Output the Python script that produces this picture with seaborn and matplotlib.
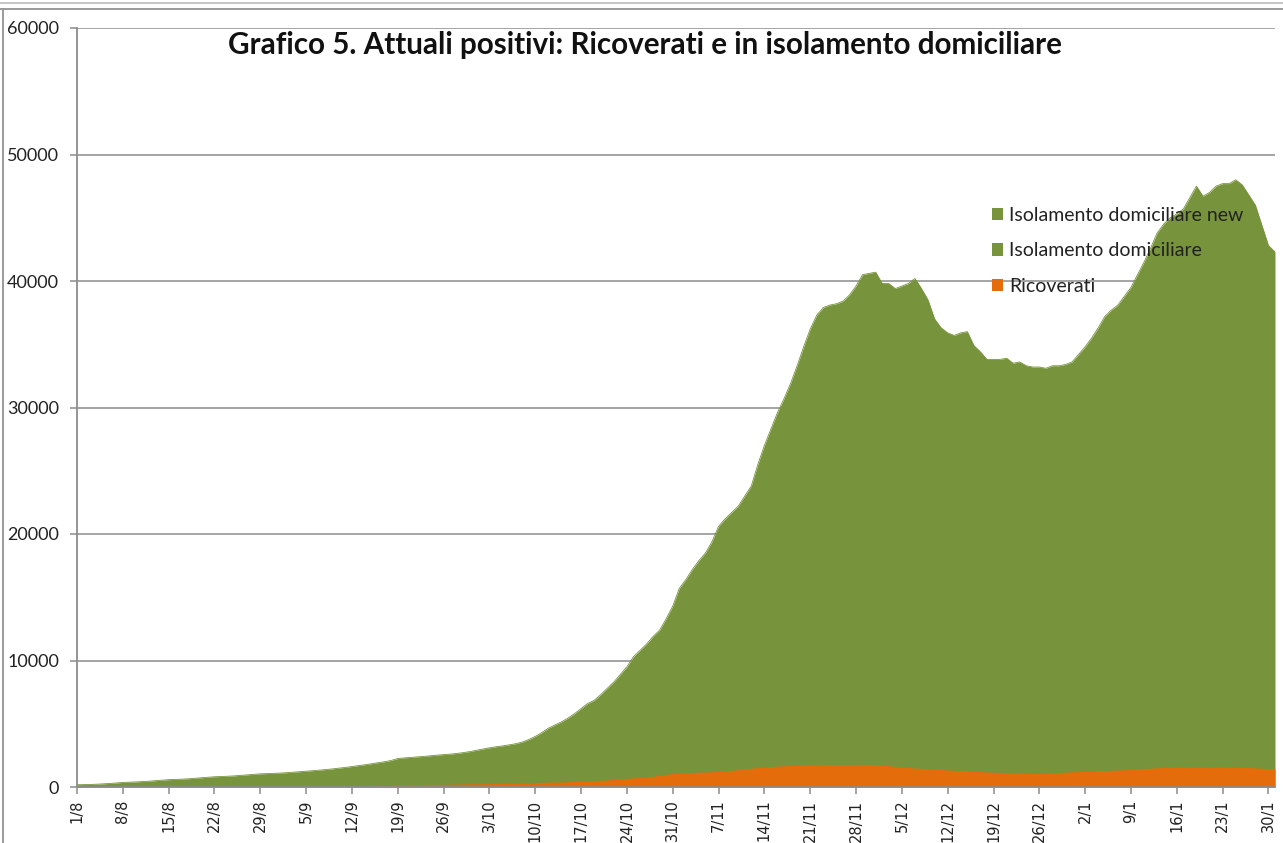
import matplotlib
matplotlib.use("Agg")
import matplotlib.pyplot as plt
from matplotlib.lines import Line2D
from matplotlib.patches import Patch
import seaborn as sns
import pandas as pd
import numpy as np

# ---- data, daily 1/8/2020 .. 31/1/2021 ----
month_lengths = [("8", 31), ("9", 30), ("10", 31), ("11", 30), ("12", 31), ("1", 31)]
date_labels = [f"{d}/{m}" for m, n in month_lengths for d in range(1, n + 1)]

# top of the green area = total currently positive (ricoverati + isolamento)
totale_positivi = [
    # August
    180, 190, 200, 220, 250, 280, 320, 360, 380, 400, 430, 460, 500, 540, 580, 600,
    620, 650, 690, 730, 770, 810, 830, 850, 880, 920, 960, 1000, 1040, 1060, 1080,
    # September
    1100, 1130, 1170, 1210, 1250, 1290, 1330, 1380, 1430, 1490, 1550, 1620, 1690, 1760,
    1840, 1920, 2000, 2100, 2250, 2300, 2340, 2380, 2420, 2470, 2520, 2560, 2600, 2650,
    2720, 2800,
    # October
    2900, 3000, 3100, 3180, 3250, 3330, 3420, 3550, 3750, 4000, 4300, 4650, 4900, 5150,
    5450, 5800, 6200, 6600, 6850, 7300, 7800, 8300, 8900, 9500, 10300, 10800, 11300,
    11900, 12400, 13300, 14300,
    # November
    15700, 16400, 17200, 17900, 18500, 19400, 20600, 21200, 21700, 22200, 23000, 23800,
    25500, 27000, 28300, 29600, 30700, 31900, 33300, 34800, 36200, 37300, 37900, 38100,
    38200, 38400, 38900, 39600, 40500, 40600,
    # December
    40700, 39800, 39800, 39400, 39600, 39800, 40200, 39400, 38500, 37000, 36300, 35900,
    35700, 35900, 36000, 34900, 34400, 33800, 33800, 33800, 33900, 33500, 33600, 33300,
    33200, 33200, 33100, 33300, 33300, 33400, 33600,
    # January
    34200, 34800, 35500, 36300, 37200, 37700, 38100, 38800, 39500, 40500, 41500, 42600,
    43800, 44500, 45000, 45300, 45700, 46600, 47500, 46700, 47000, 47500, 47700, 47700,
    48000, 47600, 46800, 46000, 44400, 42800, 42300,
]

ricoverati = [
    # August
    0, 0, 0, 0, 0, 0, 0, 0, 0, 0, 0, 0, 0, 0, 0, 0,
    0, 0, 0, 0, 0, 0, 0, 0, 0, 0, 0, 0, 0, 0, 0,
    # September
    0, 0, 0, 0, 0, 0, 0, 0, 0, 0, 0, 0, 0, 0, 0,
    120, 130, 140, 150, 160, 170, 180, 190, 200, 200, 210, 220, 230, 240, 250,
    # October
    255, 260, 270, 280, 290, 300, 310, 320, 340, 350, 370, 380, 390, 400, 420, 440,
    460, 480, 500, 530, 560, 600, 640, 680, 720, 760, 800, 850, 920, 1000, 1070,
    # November
    1100, 1130, 1150, 1170, 1190, 1210, 1240, 1280, 1320, 1370, 1420, 1480, 1540, 1580,
    1620, 1650, 1680, 1700, 1720, 1730, 1740, 1750, 1760, 1760, 1770, 1770, 1780, 1790,
    1790, 1780,
    # December
    1760, 1720, 1680, 1630, 1580, 1540, 1500, 1470, 1440, 1410, 1380, 1350, 1320, 1300,
    1270, 1240, 1210, 1190, 1170, 1150, 1130, 1110, 1090, 1080, 1070, 1070, 1090, 1110,
    1140, 1170, 1200,
    # January
    1220, 1240, 1260, 1280, 1300, 1320, 1340, 1370, 1400, 1430, 1460, 1490, 1520, 1550,
    1580, 1600, 1610, 1620, 1620, 1620, 1610, 1610, 1600, 1590, 1580, 1560, 1540, 1510,
    1480, 1460, 1450,
]

legend_labels = ["Isolamento domiciliare new", "Isolamento domiciliare", "Ricoverati"]
title = "Grafico 5. Attuali positivi: Ricoverati e in isolamento domiciliare"
y_ticks = [0, 10000, 20000, 30000, 40000, 50000, 60000]

GREEN = "#77933C"
ORANGE = "#E46C0A"
GRID = "#8C8C8C"

df = pd.DataFrame({"giorno": range(len(date_labels)),
                   "data": date_labels,
                   "totale": totale_positivi,
                   "ricoverati": ricoverati})

sns.set_theme(style="white")
plt.rcParams["font.family"] = ["Lato", "DejaVu Sans"]

fig = plt.figure(figsize=(12.83, 8.43), dpi=100)
ax = fig.add_axes([77 / 1283, 1 - 787 / 843, (1275 - 77) / 1283, (787 - 28) / 843])

ax.fill_between(df["giorno"], 0, df["totale"], color=GREEN, linewidth=0, zorder=2)
ax.fill_between(df["giorno"], 0, df["ricoverati"], color=ORANGE, linewidth=0, zorder=3)
sns.lineplot(data=df, x="giorno", y="totale", ax=ax, color=GREEN, linewidth=0.6, zorder=2)

ax.set_xlim(0, len(date_labels) - 1)
ax.set_ylim(0, 60000)
ax.set_yticks(y_ticks)
ax.set_yticklabels([str(v) for v in y_ticks], fontsize=13, color="#222222")
xt = list(range(0, len(date_labels), 7))
ax.set_xticks(xt)
ax.set_xticklabels([date_labels[i] for i in xt], rotation=90, fontsize=10.5,
                   family="DejaVu Sans", color="#222222")
ax.set_xlabel("")
ax.set_ylabel("")

ax.yaxis.grid(True, color=GRID, linewidth=1.1, zorder=1)
ax.set_axisbelow(True)
for s in ["top", "right"]:
    ax.spines[s].set_visible(False)
for s in ["left", "bottom"]:
    ax.spines[s].set_color(GRID)
    ax.spines[s].set_linewidth(1.3)
    ax.spines[s].set_zorder(4)
ax.tick_params(axis="both", which="both", direction="out", length=5, width=1.1,
               color=GRID, left=True, bottom=True)
ax.tick_params(axis="y", pad=8)
ax.tick_params(axis="x", pad=4)

fig.text(0.503, 1 - 45 / 843, title, ha="center", va="center",
         fontsize=21.3, fontweight="bold", color="#111111")

handles = [Patch(facecolor=GREEN, edgecolor="none"),
           Patch(facecolor=GREEN, edgecolor="none"),
           Patch(facecolor=ORANGE, edgecolor="none")]
leg = fig.legend(handles, legend_labels, loc="upper left",
                 bbox_to_anchor=(982 / 1283, 1 - 197 / 843), frameon=False,
                 fontsize=14, handlelength=0.6, handleheight=0.6,
                 handletextpad=0.3, labelspacing=0.95, borderpad=0)
for t in leg.get_texts():
    t.set_color("#222222")

# outer chart-area frame lines (as in the spreadsheet export)
fig.add_artist(Line2D([0, 1], [1 - 3 / 843, 1 - 3 / 843], transform=fig.transFigure,
                      color="#BBBBBB", linewidth=1.2))
fig.add_artist(Line2D([0, 1], [1 - 9 / 843, 1 - 9 / 843], transform=fig.transFigure,
                      color="#9A9A9A", linewidth=1.4))
fig.add_artist(Line2D([3 / 1283, 3 / 1283], [0, 1 - 9 / 843], transform=fig.transFigure,
                      color="#9A9A9A", linewidth=1.4))

fig.savefig("out.png", dpi=100)
